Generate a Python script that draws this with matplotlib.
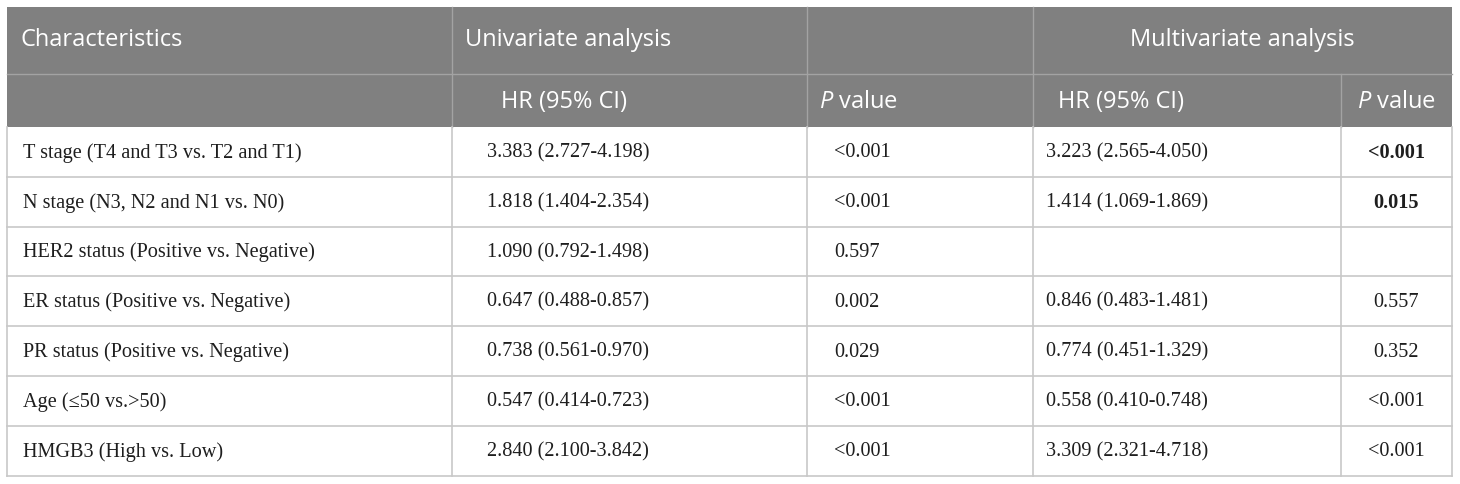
import matplotlib
matplotlib.use("Agg")
import matplotlib.pyplot as plt
from matplotlib.patches import Rectangle

# table content
characteristics = [
    "T stage (T4 and T3 vs. T2 and T1)",
    "N stage (N3, N2 and N1 vs. N0)",
    "HER2 status (Positive vs. Negative)",
    "ER status (Positive vs. Negative)",
    "PR status (Positive vs. Negative)",
    "Age (\u226450 vs.>50)",
    "HMGB3 (High vs. Low)",
]
uni_hr = [
    "3.383 (2.727-4.198)",
    "1.818 (1.404-2.354)",
    "1.090 (0.792-1.498)",
    "0.647 (0.488-0.857)",
    "0.738 (0.561-0.970)",
    "0.547 (0.414-0.723)",
    "2.840 (2.100-3.842)",
]
uni_p = ["<0.001", "<0.001", "0.597", "0.002", "0.029", "<0.001", "<0.001"]
multi_hr = [
    "3.223 (2.565-4.050)",
    "1.414 (1.069-1.869)",
    "",
    "0.846 (0.483-1.481)",
    "0.774 (0.451-1.329)",
    "0.558 (0.410-0.748)",
    "3.309 (2.321-4.718)",
]
multi_p = ["<0.001", "0.015", "", "0.557", "0.352", "<0.001", "<0.001"]
multi_p_bold = [True, True, False, False, False, False, False]

plt.rcParams['mathtext.fontset'] = 'custom'
plt.rcParams['mathtext.it'] = 'Open Sans:italic'
plt.rcParams['mathtext.rm'] = 'Open Sans'

# layout (pixels)
W, H = 1460, 484
left, right = 7, 1452
col_lines = [452, 807, 1033, 1341]
top, head_mid, head_bot = 7, 74, 127
row_h = 49.8

header_bg = "#808080"
grid = "#c8c8c8"
head_grid = "#a3a3a3"
sans = "Open Sans"
serif = "Liberation Serif"
hsize = 17
dsize = 14.6
ink = "#1e1e1e"

fig = plt.figure(figsize=(W / 100, H / 100), dpi=100)
ax = fig.add_axes([0, 0, 1, 1])
ax.set_xlim(0, W)
ax.set_ylim(H, 0)
ax.axis("off")

# header block
ax.add_patch(Rectangle((left, top), right - left, head_bot - top, color=header_bg, lw=0))
ax.plot([left, right], [head_mid, head_mid], color=head_grid, lw=1)
for x in col_lines[:3]:
    ax.plot([x, x], [top, head_bot], color=head_grid, lw=1)
ax.plot([col_lines[3], col_lines[3]], [head_mid, head_bot], color=head_grid, lw=1)

y1 = (top + head_mid) / 2 - 1
y2 = (head_mid + head_bot) / 2 + 1
ax.text(21, y1, "Characteristics", color="white", fontsize=hsize, family=sans, va="center", ha="left")
ax.text(465, y1, "Univariate analysis", color="white", fontsize=hsize, family=sans, va="center", ha="left")
ax.text((col_lines[2] + right) / 2, y1, "Multivariate analysis", color="white", fontsize=hsize,
        family=sans, va="center", ha="center")
ax.text(501, y2, "HR (95% CI)", color="white", fontsize=hsize, family=sans, va="center", ha="left")
ax.text(819, y2, "$P$ value", color="white", fontsize=hsize, family=sans, va="center", ha="left")
ax.text(1058, y2, "HR (95% CI)", color="white", fontsize=hsize, family=sans, va="center", ha="left")
ax.text((col_lines[3] + right) / 2, y2, "$P$ value", color="white", fontsize=hsize,
        family=sans, va="center", ha="center")

# body grid
n = len(characteristics)
bottom = head_bot + n * row_h
for i in range(1, n + 1):
    y = head_bot + i * row_h
    ax.plot([left, right], [y, y], color=grid, lw=1.2)
for x in [left] + col_lines + [right]:
    ax.plot([x, x], [head_bot, bottom], color=grid, lw=1.2)

for i in range(n):
    yc = head_bot + (i + 0.5) * row_h + 1
    ax.text(23, yc, characteristics[i], fontsize=dsize, family=serif, va="center", ha="left", color=ink)
    ax.text(487, yc, uni_hr[i], fontsize=dsize, family=serif, va="center", ha="left", color=ink)
    ax.text(834, yc, uni_p[i], fontsize=dsize, family=serif, va="center", ha="left", color=ink)
    ax.text(1046, yc, multi_hr[i], fontsize=dsize, family=serif, va="center", ha="left", color=ink)
    ax.text((col_lines[3] + right) / 2, yc, multi_p[i], fontsize=dsize, family=serif, va="center",
            ha="center", color=ink, fontweight="bold" if multi_p_bold[i] else "normal")

fig.savefig("out.png", dpi=100)
